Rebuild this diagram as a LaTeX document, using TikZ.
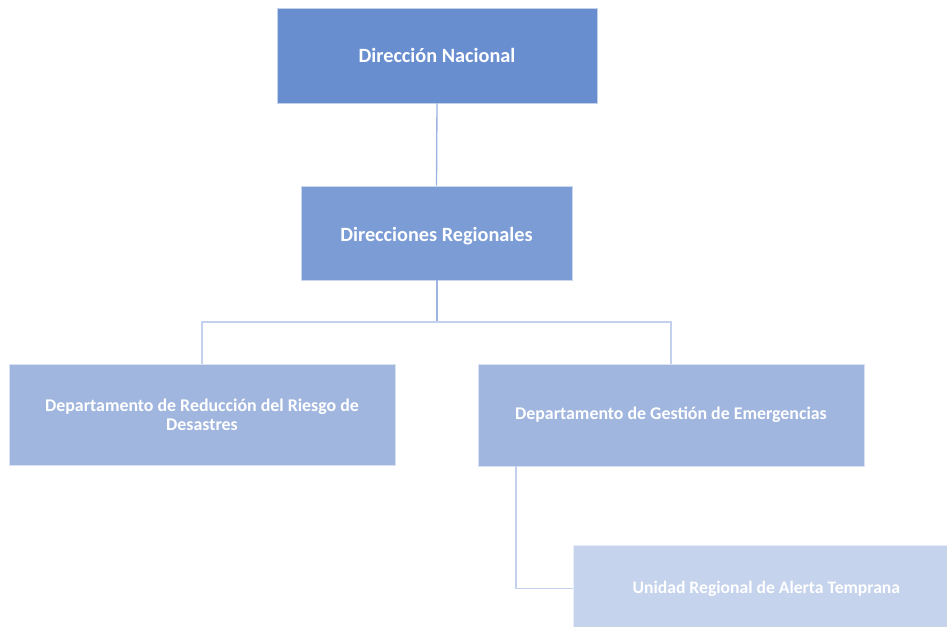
\documentclass[tikz,border=0pt]{standalone}
\usepackage{fontspec}
\setmainfont{Carlito}
\definecolor{c1}{HTML}{698ED0}
\definecolor{c2}{HTML}{7B9CD5}
\definecolor{c3}{HTML}{A0B6DE}
\definecolor{c4}{HTML}{C5D3EC}
\definecolor{ln1}{HTML}{9DB3E0}
\definecolor{ln2}{HTML}{C3D1EE}
\tikzset{
  orgbox/.style={rectangle, draw=white!60!#1, line width=0.5pt, fill=#1, text=white, font=\bfseries\fontsize{13.4}{14.3}\selectfont, align=center, inner sep=0pt},
  bigtext/.style={font=\bfseries\fontsize{15.2}{17}\selectfont},
  conn/.style={draw=#1, line width=1pt}
}
\begin{document}
\begin{tikzpicture}[x=0.75pt,y=-0.75pt]
\useasboundingbox (0,0) rectangle (947,626);
\fill[white] (0,0) rectangle (947,626);
\node[orgbox=c1, minimum width=320*0.75pt, minimum height=95*0.75pt, bigtext] (dn) at (437,55.5) {Dirección Nacional};
\node[orgbox=c2, minimum width=271*0.75pt, minimum height=94*0.75pt, bigtext, text height=15pt, text depth=3pt] (dr) at (436.5,233) {Direcciones Regionales};
\node[orgbox=c3, minimum width=386*0.75pt, minimum height=101*0.75pt] (drr) at (202,414.5) {Departamento de Reducción del Riesgo de\\Desastres};
\node[orgbox=c3, minimum width=386*0.75pt, minimum height=102*0.75pt] (dge) at (671,415) {Departamento de Gestión de Emergencias};
\node[orgbox=c4, minimum width=386*0.75pt, minimum height=86*0.75pt, anchor=north west, font=\bfseries\fontsize{13.2}{14.3}\selectfont] (ur) at (573,545) {Unidad Regional de Alerta Temprana};
\coordinate (br) at (437,322);
\draw[conn=ln1] (dn.south) -- (dr.north);
\draw[conn=ln1] (dr.south -| br) -- (br);
\draw[conn=ln2] (br) -| (drr.north);
\draw[conn=ln2] (br) -| (dge.north);
\draw[conn=ln2] (dge.south -| 516,0) |- (ur.west);
\end{tikzpicture}
\end{document}
